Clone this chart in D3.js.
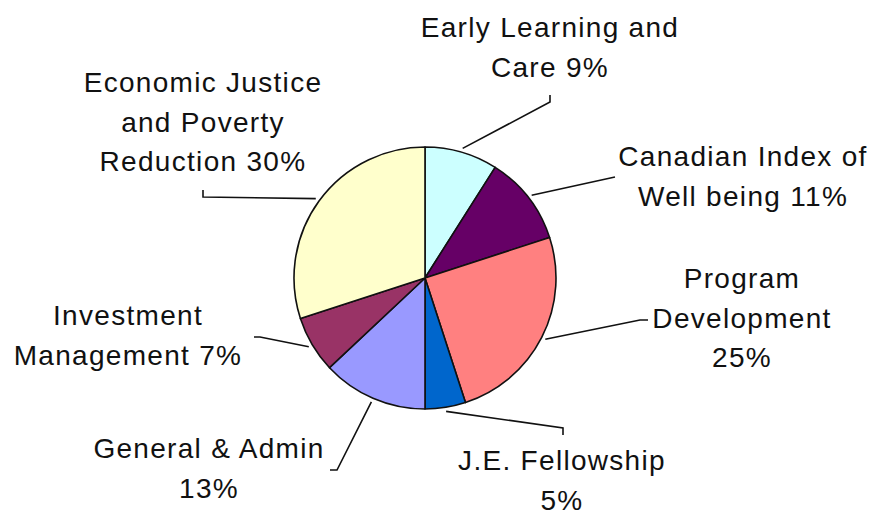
<!DOCTYPE html>
<html>
<head>
<meta charset="utf-8">
<script src="https://cdn.jsdelivr.net/npm/d3@7"></script>
<style>
  body { margin: 0; background: #fff; }
  text { font-family: "Liberation Sans", Arial, sans-serif; font-size: 28px; letter-spacing: 1.3px; fill: #111; }
</style>
</head>
<body>
<script>
// slice data, clockwise from 12 o'clock
var categories = ["Early Learning and Care", "Canadian Index of Well being", "Program Development",
                  "J.E. Fellowship", "General & Admin", "Investment Management",
                  "Economic Justice and Poverty Reduction"];
var values = [9, 11, 25, 5, 13, 7, 30];
var colors = ["#ccffff", "#660066", "#ff8080", "#0066cc", "#9999ff", "#993366", "#ffffcc"];

// label text lines as shown on the chart
var labelLines = [
  ["Early Learning and", "Care 9%"],
  ["Canadian Index of", "Well being 11%"],
  ["Program", "Development", "25%"],
  ["J.E. Fellowship", "5%"],
  ["General & Admin", "13%"],
  ["Investment", "Management 7%"],
  ["Economic Justice", "and Poverty", "Reduction 30%"]
];

// label placement (centre x, first baseline y) and leader line bends
var labelPos = [[550, 37], [743, 166], [742, 288], [562, 470], [209, 458], [128, 325], [203, 92]];
var leaderBends = [
  [[550, 102], [550, 95]],
  [[615, 177]],
  [[640, 320], [648, 320]],
  [[563, 428], [563, 435]],
  [[337, 470], [330, 470]],
  [[260, 337], [254, 337]],
  [[203, 197], [203, 190]]
];

var width = 890, height = 511;
var cx = 425, cy = 278, radius = 131;
var lineH = 39.5;

var svg = d3.select("body").append("svg")
    .attr("width", width)
    .attr("height", height);

var pie = d3.pie().sort(null).value(d => d);
var arcs = pie(values);

var arc = d3.arc().innerRadius(0).outerRadius(radius);

var g = svg.append("g")
    .attr("transform", "translate(" + cx + "," + cy + ")");

g.selectAll("path")
  .data(arcs)
  .enter()
  .append("path")
  .attr("d", arc)
  .attr("fill", (d, i) => colors[i])
  .attr("stroke", "#111")
  .attr("stroke-width", 1.6)
  .attr("stroke-linejoin", "round");

// leader lines: start on the rim at mid angle, then go to the bends
var line = d3.line();
svg.selectAll(".leader")
  .data(arcs)
  .enter()
  .append("path")
  .attr("class", "leader")
  .attr("fill", "none")
  .attr("stroke", "#111")
  .attr("stroke-width", 1.6)
  .attr("d", function(d, i) {
    var a = (d.startAngle + d.endAngle) / 2;
    var r0 = radius + 4;
    var start = [cx + r0 * Math.sin(a), cy - r0 * Math.cos(a)];
    return line([start].concat(leaderBends[i]));
  });

// labels
var labels = svg.selectAll(".lbl")
  .data(labelLines)
  .enter()
  .append("text")
  .attr("class", "lbl")
  .attr("text-anchor", "middle");

labels.selectAll("tspan")
  .data((d, i) => d.map(t => ({t: t, i: i})))
  .enter()
  .append("tspan")
  .attr("x", d => labelPos[d.i][0])
  .attr("y", (d, j) => labelPos[d.i][1] + j * lineH)
  .text(d => d.t);
</script>
</body>
</html>
